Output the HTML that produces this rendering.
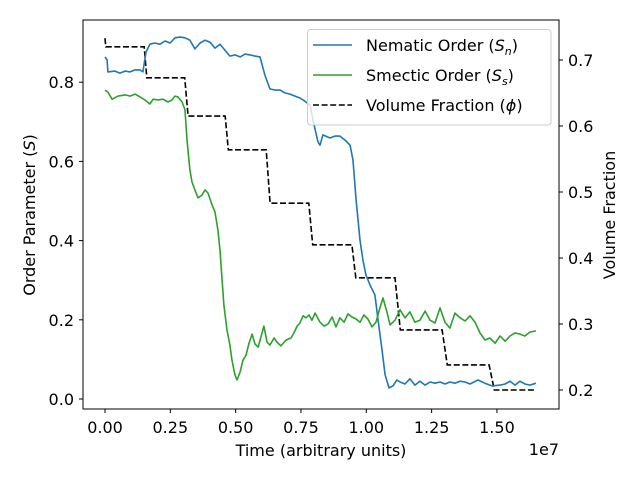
<!DOCTYPE html>
<html><head><meta charset="utf-8"><style>
body{margin:0;background:#fff}
svg{display:block;font-family:"DejaVu Sans","Liberation Sans",sans-serif}
</style></head><body>
<svg id="chart" width="640" height="480" viewBox="0 0 640 480" xmlns="http://www.w3.org/2000/svg">
<rect width="640" height="480" fill="#fff"/>
<g id="plot"></g>
<g id="axes"></g>
</svg>
<script>
const xTicks=[0,0.25,0.5,0.75,1.0,1.25,1.5];
const xTickLabels=["0.00","0.25","0.50","0.75","1.00","1.25","1.50"];
const yTicks=[0,0.2,0.4,0.6,0.8];
const yTickLabels=["0.0","0.2","0.4","0.6","0.8"];
const y2Ticks=[0.2,0.3,0.4,0.5,0.6,0.7];
const y2TickLabels=["0.2","0.3","0.4","0.5","0.6","0.7"];
const nemT=[0,0.008,0.011,0.038,0.057,0.077,0.096,0.115,0.134,0.145,0.157,0.172,0.191,0.21,0.23,0.249,0.268,0.287,0.306,0.325,0.344,0.364,0.383,0.402,0.421,0.44,0.459,0.478,0.497,0.517,0.536,0.555,0.574,0.593,0.612,0.631,0.651,0.67,0.689,0.708,0.727,0.746,0.765,0.785,0.796,0.815,0.823,0.834,0.861,0.88,0.899,0.918,0.938,0.949,0.961,0.976,0.987,0.999,1.014,1.033,1.045,1.06,1.072,1.087,1.102,1.117,1.129,1.148,1.167,1.186,1.205,1.225,1.244,1.263,1.282,1.301,1.32,1.339,1.359,1.378,1.397,1.427,1.454,1.481,1.512,1.531,1.55,1.569,1.588,1.607,1.626,1.649];
const nemS=[0.864,0.856,0.826,0.828,0.823,0.828,0.826,0.831,0.831,0.826,0.876,0.896,0.899,0.896,0.904,0.899,0.912,0.914,0.912,0.906,0.884,0.899,0.906,0.901,0.886,0.896,0.881,0.866,0.869,0.864,0.871,0.869,0.866,0.864,0.818,0.783,0.780,0.780,0.773,0.770,0.765,0.760,0.752,0.742,0.704,0.649,0.641,0.667,0.659,0.664,0.664,0.654,0.641,0.603,0.502,0.401,0.351,0.313,0.288,0.263,0.199,0.124,0.061,0.028,0.033,0.048,0.043,0.038,0.051,0.035,0.045,0.035,0.043,0.04,0.043,0.038,0.043,0.04,0.045,0.043,0.038,0.048,0.04,0.033,0.035,0.038,0.045,0.035,0.045,0.038,0.035,0.04];
const smeT=[0,0.011,0.027,0.05,0.077,0.096,0.115,0.134,0.153,0.172,0.184,0.203,0.222,0.241,0.256,0.268,0.279,0.295,0.306,0.314,0.325,0.333,0.344,0.356,0.371,0.383,0.394,0.41,0.421,0.432,0.44,0.448,0.455,0.467,0.478,0.486,0.497,0.505,0.517,0.528,0.54,0.551,0.563,0.574,0.586,0.597,0.608,0.62,0.631,0.647,0.658,0.673,0.693,0.712,0.723,0.735,0.746,0.758,0.769,0.781,0.792,0.804,0.823,0.838,0.853,0.869,0.884,0.899,0.915,0.93,0.945,0.961,0.976,0.991,1.006,1.022,1.037,1.052,1.064,1.079,1.091,1.11,1.129,1.148,1.167,1.186,1.205,1.225,1.244,1.263,1.282,1.301,1.32,1.339,1.359,1.378,1.397,1.416,1.435,1.454,1.473,1.493,1.512,1.531,1.55,1.569,1.588,1.607,1.626,1.649];
const smeS=[0.780,0.775,0.757,0.765,0.768,0.765,0.770,0.763,0.755,0.745,0.757,0.755,0.757,0.750,0.755,0.765,0.763,0.750,0.730,0.654,0.578,0.548,0.528,0.508,0.515,0.528,0.520,0.490,0.472,0.427,0.376,0.300,0.237,0.174,0.136,0.098,0.061,0.048,0.068,0.098,0.111,0.141,0.164,0.139,0.131,0.157,0.184,0.144,0.136,0.154,0.144,0.134,0.149,0.154,0.167,0.184,0.192,0.210,0.205,0.212,0.199,0.217,0.194,0.184,0.189,0.207,0.182,0.205,0.194,0.215,0.207,0.202,0.194,0.212,0.202,0.182,0.194,0.230,0.255,0.220,0.187,0.199,0.225,0.205,0.220,0.194,0.199,0.222,0.199,0.192,0.230,0.194,0.179,0.217,0.205,0.197,0.210,0.194,0.167,0.149,0.154,0.141,0.159,0.146,0.159,0.167,0.164,0.159,0.169,0.172];
const phiT=[0,0.003,0.15,0.16,0.305,0.318,0.46,0.472,0.617,0.632,0.78,0.795,0.945,0.96,1.11,1.13,1.29,1.31,1.47,1.49,1.65];
const phiV=[0.733,0.72,0.72,0.673,0.673,0.615,0.615,0.564,0.564,0.483,0.483,0.42,0.42,0.37,0.37,0.291,0.291,0.238,0.238,0.2,0.2];

const L=83,R=559,T=20,B=409;
const sx=t=>105+t*261.3;
const sy=v=>399-v*396;
const sy2=v=>390-(v-0.2)*660;
const NS="http://www.w3.org/2000/svg";
function mk(tag,attrs,parent,text){const e=document.createElementNS(NS,tag);for(const k in attrs)e.setAttribute(k,attrs[k]);if(text!==undefined)e.textContent=text;parent.appendChild(e);return e;}
const plot=document.getElementById('plot'),axes=document.getElementById('axes');
function pts(ts,vs,f){return ts.map((t,i)=>sx(t).toFixed(1)+','+f(vs[i]).toFixed(1)).join(' ');}
let p;
p=mk('polyline',{points:pts(phiT,phiV,sy2),fill:'none',stroke:'#000','stroke-width':1.6,'stroke-dasharray':'6,2.6'},plot);


p=mk('polyline',{points:pts(nemT,nemS,sy),fill:'none',stroke:'#1f77b4','stroke-width':1.6,'stroke-linejoin':'round'},plot);


p=mk('polyline',{points:pts(smeT,smeS,sy),fill:'none',stroke:'#2ca02c','stroke-width':1.6,'stroke-linejoin':'round'},plot);



let f=mk('rect',{x:L,y:T,width:R-L,height:B-T,fill:'none',stroke:'#000','stroke-width':1},axes);


xTicks.forEach((t,i)=>{const x=sx(t);mk('line',{x1:x,y1:B,x2:x,y2:B+4,stroke:'#000'},axes);
 const tx=mk('text',{x:x,y:433,'font-size':16,'text-anchor':'middle'},axes,xTickLabels[i]);
 
 });
yTicks.forEach((v,i)=>{const y=sy(v);mk('line',{x1:L-4,y1:y,x2:L,y2:y,stroke:'#000'},axes);
 const tx=mk('text',{x:74,y:y+6,'font-size':16,'text-anchor':'end'},axes,yTickLabels[i]);
 
 });
y2Ticks.forEach((v,i)=>{const y=sy2(v);mk('line',{x1:R,y1:y,x2:R+4,y2:y,stroke:'#000'},axes);
 const tx=mk('text',{x:568,y:y+6,'font-size':16,'text-anchor':'start'},axes,y2TickLabels[i]);
 
 });
</script>
<svg style="position:absolute;left:0;top:0" width="640" height="480" xmlns="http://www.w3.org/2000/svg">
<text x="321" y="456" font-size="16" text-anchor="middle" font-family="DejaVu Sans, sans-serif">Time (arbitrary units)</text>
<text x="559" y="455" font-size="16" text-anchor="end" font-family="DejaVu Sans, sans-serif">1e7</text>
<text transform="translate(35,215) rotate(-90)" font-size="16" text-anchor="middle" font-family="DejaVu Sans, sans-serif">Order Parameter (<tspan font-style="italic">S</tspan>)</text>
<text transform="translate(615,215) rotate(-90)" font-size="16" text-anchor="middle" font-family="DejaVu Sans, sans-serif">Volume Fraction</text>
<g font-family="DejaVu Sans, sans-serif" font-size="16">
<rect x="307.5" y="29.5" width="243.5" height="95.5" rx="3" fill="#fff" fill-opacity="0.8" stroke="#ccc"/>
<line x1="313" y1="45" x2="352" y2="45" stroke="#1f77b4" stroke-width="1.6"/>
<text x="366" y="51">Nematic Order (<tspan font-style="italic">S</tspan><tspan font-style="italic" font-size="11" dy="4">n</tspan><tspan dy="-4">)</tspan></text>
<line x1="313" y1="75" x2="352" y2="75" stroke="#2ca02c" stroke-width="1.6"/>
<text x="366" y="81">Smectic Order (<tspan font-style="italic">S</tspan><tspan font-style="italic" font-size="11" dy="4">s</tspan><tspan dy="-4">)</tspan></text>
<line x1="313" y1="105" x2="352" y2="105" stroke="#000" stroke-width="1.6" stroke-dasharray="6,2.6"/>
<text x="366" y="111">Volume Fraction (<tspan font-style="italic">ϕ</tspan>)</text>
</g>
</svg>
</body></html>
